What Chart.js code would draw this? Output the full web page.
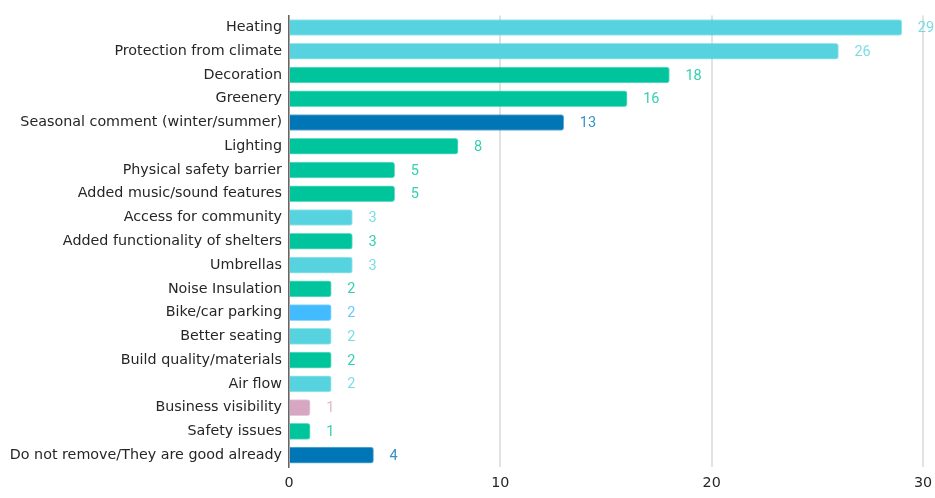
<!DOCTYPE html>
<html>
<head>
<meta charset="utf-8">
<script src="https://cdn.jsdelivr.net/npm/chart.js"></script>
<style>
  html, body { margin: 0; padding: 0; background: #fff; }
  #wrap { width: 935px; height: 498px; }
</style>
</head>
<body>
<div id="wrap"><canvas id="chart" width="935" height="498"></canvas></div>
<script>
// categories and counts, top to bottom
const categories = [
  "Heating",
  "Protection from climate",
  "Decoration",
  "Greenery",
  "Seasonal comment (winter/summer)",
  "Lighting",
  "Physical safety barrier",
  "Added music/sound features",
  "Access for community",
  "Added functionality of shelters",
  "Umbrellas",
  "Noise Insulation",
  "Bike/car parking",
  "Better seating",
  "Build quality/materials",
  "Air flow",
  "Business visibility",
  "Safety issues",
  "Do not remove/They are good already"
];
const counts = [29, 26, 18, 16, 13, 8, 5, 5, 3, 3, 3, 2, 2, 2, 2, 2, 1, 1, 4];
const xTicks = [0, 10, 20, 30];

// colour group per bar
const CYAN = "#57d3df", GREEN = "#00c49c", NAVY = "#0176b6", SKY = "#42bcff", PINK = "#d7a7c1";
const barColors = [
  CYAN, CYAN, GREEN, GREEN, NAVY, GREEN, GREEN, GREEN, CYAN, GREEN,
  CYAN, GREEN, SKY, CYAN, GREEN, CYAN, PINK, GREEN, NAVY
];

// draws the count just right of each bar, in the bar's colour
const valueLabels = {
  id: "valueLabels",
  afterDatasetsDraw(chart) {
    const ctx = chart.ctx;
    const meta = chart.getDatasetMeta(0);
    ctx.save();
    ctx.font = "14.5px Roboto";
    ctx.textBaseline = "middle";
    ctx.textAlign = "left";
    ctx.globalAlpha = 0.8;
    meta.data.forEach((bar, i) => {
      ctx.fillStyle = barColors[i];
      ctx.fillText(String(counts[i]), bar.x + 16, bar.y + 1);
    });
    ctx.restore();
  }
};

new Chart(document.getElementById("chart"), {
  type: "bar",
  data: {
    labels: categories,
    datasets: [{
      data: counts,
      backgroundColor: barColors,
      borderColor: barColors.map(c => c + "99"),
      borderWidth: 1,
      borderRadius: 3,
      borderSkipped: "left",
      barThickness: 16
    }]
  },
  plugins: [valueLabels],
  options: {
    indexAxis: "y",
    responsive: false,
    animation: false,
    layout: { padding: { top: 11, right: 12, bottom: 0, left: 0 } },
    plugins: {
      legend: { display: false },
      tooltip: { enabled: false }
    },
    scales: {
      x: {
        min: 0,
        max: 30,
        afterBuildTicks(scale) { scale.ticks = xTicks.map(v => ({ value: v })); },
        afterFit(scale) {
          scale.height = 31;
          // keep the "30" label from pulling the plot edge inward
          scale.paddingRight = 0;
        },
        grid: { color: "#e2e2e2", lineWidth: 2, drawTicks: false },
        border: { display: false },
        ticks: {
          padding: 8,
          color: "#262626",
          font: { family: "DejaVu Sans", size: 14.3 }
        }
      },
      y: {
        afterFit(scale) { scale.width = 289; },
        grid: { display: false, drawTicks: false },
        border: { display: true, color: "#666", width: 1.5 },
        ticks: {
          padding: 7,
          color: "#262626",
          font: { family: "DejaVu Sans", size: 14.3 }
        }
      }
    }
  }
});
</script>
</body>
</html>
